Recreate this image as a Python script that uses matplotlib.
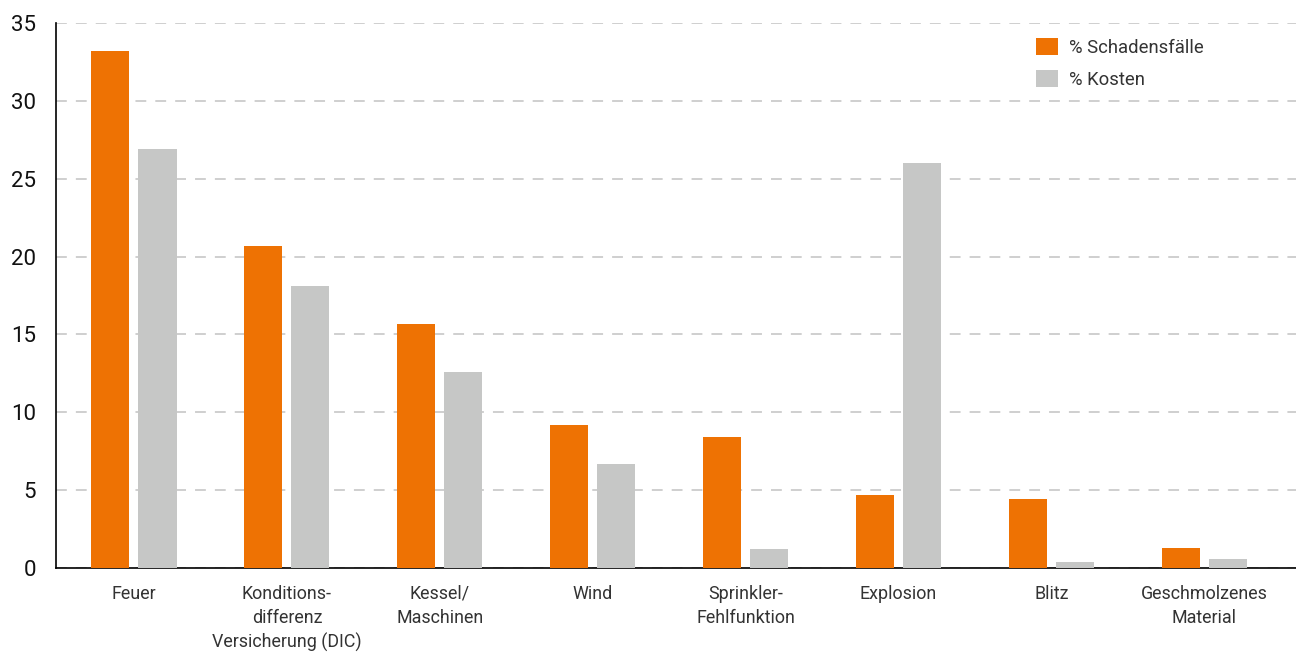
import numpy as np
import matplotlib.pyplot as plt

categories = ["Feuer", "Konditions-\ndifferenz\nVersicherung (DIC)", "Kessel/\nMaschinen", "Wind",
              "Sprinkler-\nFehlfunktion", "Explosion", "Blitz", "Geschmolzenes\nMaterial"]
schaden = [33.2, 20.7, 15.7, 9.2, 8.4, 4.7, 4.4, 1.3]
kosten = [26.9, 18.1, 12.6, 6.7, 1.2, 26.0, 0.4, 0.6]

orange = "#EE7203"
grey = "#C6C7C6"

plt.rcParams['font.family'] = ['Roboto', 'DejaVu Sans']

fig = plt.figure(figsize=(12.96, 6.52), dpi=100)
ax = fig.add_axes([56/1296, 1-568/652, 1-56/1296, (568-23)/652])

x = np.arange(len(categories))
w = 0.249
ax.bar(x - 0.154, schaden, w, color=orange, label="% Schadensfälle", zorder=3)
ax.bar(x + 0.154, kosten, w, color=grey, label="% Kosten", zorder=3)

ax.set_xlim(-0.51, 7.60)
ax.set_ylim(0, 35)
ax.set_yticks(np.arange(0, 36, 5))
ax.yaxis.grid(True, color="#cccccc", linestyle=(0, (6, 5)), linewidth=1.3, zorder=0)
ax.set_axisbelow(True)

ax.set_xticks(x)
ax.set_xticklabels(categories, fontsize=12.9, color="#333333", linespacing=1.42, va="top")
ax.tick_params(axis="x", length=0, pad=12)
ax.tick_params(axis="y", length=0, pad=14.4, labelsize=16, labelcolor="#111111")

for s in ["top", "right"]:
    ax.spines[s].set_visible(False)
ax.spines["left"].set_linewidth(1.2)
ax.spines["bottom"].set_linewidth(1.2)

ax.legend(loc="upper left", bbox_to_anchor=(0.777, 1.003), frameon=False, fontsize=13.3,
          handlelength=1.2, handleheight=1.0, labelspacing=0.75, handletextpad=0.6,
          labelcolor="#333333")

fig.savefig("out.png", dpi=100)
